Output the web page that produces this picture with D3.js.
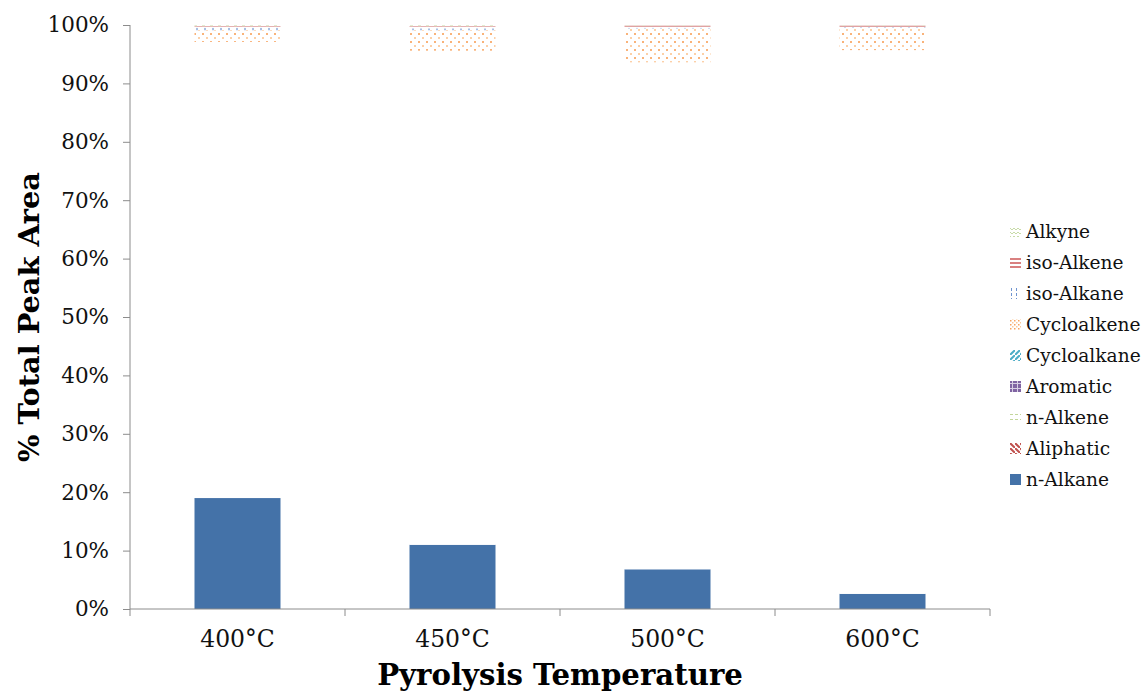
<!DOCTYPE html>
<html>
<head>
<meta charset="utf-8">
<script src="https://cdn.jsdelivr.net/npm/d3@7/dist/d3.min.js"></script>
<style>
  body { margin: 0; background: #fff; }
  text { font-family: "DejaVu Serif", serif; }
  .axis path, .axis line { stroke: #8c8c8c; }
  .axis text { fill: #111; }
  .y.axis text { font-size: 21.5px; }
  .x.axis text { font-size: 23.5px; }
</style>
</head>
<body>
<svg id="chart" width="1145" height="691"></svg>
<script>
// categories and series (values in %)
var temps = ['400°C', '450°C', '500°C', '600°C'];
var seriesNames = ['n-Alkane', 'Aliphatic', 'n-Alkene', 'Aromatic', 'Cycloalkane', 'Cycloalkene', 'iso-Alkane', 'iso-Alkene', 'Alkyne'];
var nAlkane     = [19.0, 11.0, 6.8, 2.6];
var aliphatic   = [40.0, 45.0, 48.0, 50.0];
var nAlkene     = [20.0, 22.0, 22.0, 24.0];
var aromatic    = [10.0, 10.0, 9.0, 8.0];
var cycloalkane = [8.1, 7.6, 7.8, 11.1];
var cycloalkene = [2.0, 3.5, 5.8, 3.8];
var isoAlkane   = [0.4, 0.3, 0.1, 0.1];
var isoAlkene   = [0.3, 0.4, 0.4, 0.3];
var alkyne      = [0.2, 0.2, 0.1, 0.1];
var yTicks = [0, 10, 20, 30, 40, 50, 60, 70, 80, 90, 100];

var seriesValues = [nAlkane, aliphatic, nAlkene, aromatic, cycloalkane, cycloalkene, isoAlkane, isoAlkene, alkyne];

var svg = d3.select('#chart');
var margin = {t: 25, l: 130, r: 155, b: 82};
var width = 1145 - margin.l - margin.r;   // 860
var height = 691 - margin.t - margin.b;   // 584

// patterns
var defs = svg.append('defs');
function pat(id, size, draw) {
    var p = defs.append('pattern').attr('id', id)
        .attr('patternUnits', 'userSpaceOnUse')
        .attr('width', size).attr('height', size);
    draw(p);
}
// bar patterns
pat('p-cycloalkene', 8, function(p) {
    p.append('rect').attr('x', 0).attr('y', 0).attr('width', 2).attr('height', 2).attr('fill', '#f9b37a');
    p.append('rect').attr('x', 4).attr('y', 4).attr('width', 2).attr('height', 2).attr('fill', '#fcd0a8');
});
pat('p-isoalkane', 8, function(p) {
    p.append('rect').attr('x', 2).attr('y', 0).attr('width', 2).attr('height', 8).attr('fill', '#a9bfe3');
});
pat('p-isoalkene', 4, function(p) {
    p.append('rect').attr('x', 0).attr('y', 0).attr('width', 4).attr('height', 2).attr('fill', '#e0a3a3');
});
pat('p-alkyne', 8, function(p) {
    p.append('rect').attr('x', 0).attr('y', 0).attr('width', 3).attr('height', 2).attr('fill', '#e3ecd2');
});
// legend patterns
pat('l-alkyne', 4, function(p) {
    p.append('path').attr('d', 'M0,1 L2,3 L4,1').attr('stroke', '#c8dba8').attr('fill', 'none');
});
pat('l-isoalkene', 4, function(p) {
    p.append('rect').attr('width', 4).attr('height', 2).attr('fill', '#d98080');
});
pat('l-isoalkane', 5, function(p) {
    p.append('rect').attr('x', 1).attr('width', 1).attr('height', 3).attr('fill', '#6f94d0');
});
pat('l-cycloalkene', 4, function(p) {
    p.append('rect').attr('width', 1.5).attr('height', 1.5).attr('fill', '#f7a35f');
    p.append('rect').attr('x', 2).attr('y', 2).attr('width', 1.5).attr('height', 1.5).attr('fill', '#fbc999');
});
pat('l-cycloalkane', 5, function(p) {
    p.append('path').attr('d', 'M-1,6 L6,-1').attr('stroke', '#4bacc6').attr('stroke-width', 2);
});
pat('l-aromatic', 5, function(p) {
    p.append('rect').attr('width', 5).attr('height', 5).attr('fill', '#8064a2');
    p.append('rect').attr('x', 2).attr('y', 0).attr('width', 1).attr('height', 5).attr('fill', '#d8cfe5');
    p.append('rect').attr('x', 0).attr('y', 2).attr('width', 5).attr('height', 1).attr('fill', '#d8cfe5');
});
pat('l-nalkene', 5, function(p) {
    p.append('rect').attr('y', 2).attr('width', 3).attr('height', 1).attr('fill', '#c3d69b');
});
pat('l-aliphatic', 5, function(p) {
    p.append('path').attr('d', 'M-1,-1 L6,6').attr('stroke', '#c0504d').attr('stroke-width', 2);
});

var barFills = ['#4472a8', '#fff', '#fff', '#fff', '#fff', 'url(#p-cycloalkene)', 'url(#p-isoalkane)', 'url(#p-isoalkene)', 'url(#p-alkyne)'];
var legendFills = ['#4472a8', 'url(#l-aliphatic)', 'url(#l-nalkene)', 'url(#l-aromatic)', 'url(#l-cycloalkane)', 'url(#l-cycloalkene)', 'url(#l-isoalkane)', 'url(#l-isoalkene)', 'url(#l-alkyne)'];

var chartG = svg.append('g').attr('transform', 'translate(' + [margin.l, margin.t] + ')');

var xScale = d3.scaleBand().domain(temps).range([0, width]).paddingInner(0.6).paddingOuter(0.3);
var yScale = d3.scaleLinear().domain([0, 100]).range([height, 0]);

// stack data
var rows = temps.map(function(t, i) {
    var r = {temp: t};
    seriesNames.forEach(function(s, j) { r[s] = seriesValues[j][i]; });
    return r;
});
var stacked = d3.stack().keys(seriesNames)(rows);

chartG.selectAll('.series')
    .data(stacked).enter()
    .append('g').attr('class', 'series')
    .attr('fill', function(d, i) { return barFills[i]; })
    .selectAll('rect')
    .data(function(d) { return d; }).enter()
    .append('rect')
    .attr('x', function(d) { return xScale(d.data.temp); })
    .attr('width', xScale.bandwidth())
    .attr('y', function(d) { return yScale(d[1]); })
    .attr('height', function(d) { return yScale(d[0]) - yScale(d[1]); });

// y axis
var yAxis = chartG.append('g').attr('class', 'y axis')
    .call(d3.axisLeft(yScale).tickValues(yTicks).tickFormat(function(d) { return d + '%'; }).tickSizeOuter(0).tickSize(7).tickPadding(14));
yAxis.select('.domain').attr('d', 'M0,0V' + height);

// x axis, tick marks at band boundaries
var xAxisG = chartG.append('g').attr('class', 'x axis')
    .attr('transform', 'translate(0,' + height + ')');
xAxisG.append('line').attr('x1', 0).attr('x2', width).attr('y1', 0).attr('y2', 0);
var step = xScale.step();
d3.range(temps.length + 1).forEach(function(i) {
    xAxisG.append('line').attr('x1', i * step).attr('x2', i * step).attr('y1', 0).attr('y2', 7);
});
xAxisG.selectAll('.xlabel')
    .data(temps).enter()
    .append('text').attr('class', 'xlabel')
    .attr('x', function(d) { return xScale(d) + xScale.bandwidth() / 2; })
    .attr('y', 38)
    .attr('text-anchor', 'middle')
    .text(function(d) { return d; });

// axis titles
svg.append('text')
    .attr('transform', 'translate(' + [39, 317] + ')rotate(-90)')
    .attr('text-anchor', 'middle')
    .style('font-size', '28.8px').style('font-weight', 'bold')
    .text('% Total Peak Area');
svg.append('text')
    .attr('x', 560).attr('y', 685)
    .attr('text-anchor', 'middle')
    .style('font-size', '29.2px').style('font-weight', 'bold')
    .text('Pyrolysis Temperature');

// legend, Alkyne at top
var legendG = svg.append('g').attr('transform', 'translate(1010,231)');
var legendOrder = seriesNames.slice().reverse();
legendOrder.forEach(function(name, k) {
    var j = seriesNames.indexOf(name);
    var row = legendG.append('g').attr('transform', 'translate(0,' + (k * 31) + ')');
    row.append('rect').attr('x', 0).attr('y', -5).attr('width', 11).attr('height', 11)
        .attr('fill', legendFills[j]);
    row.append('text').attr('x', 16).attr('y', 7)
        .style('font-size', '18.6px').attr('fill', '#111')
        .text(name);
});
</script>
</body>
</html>
